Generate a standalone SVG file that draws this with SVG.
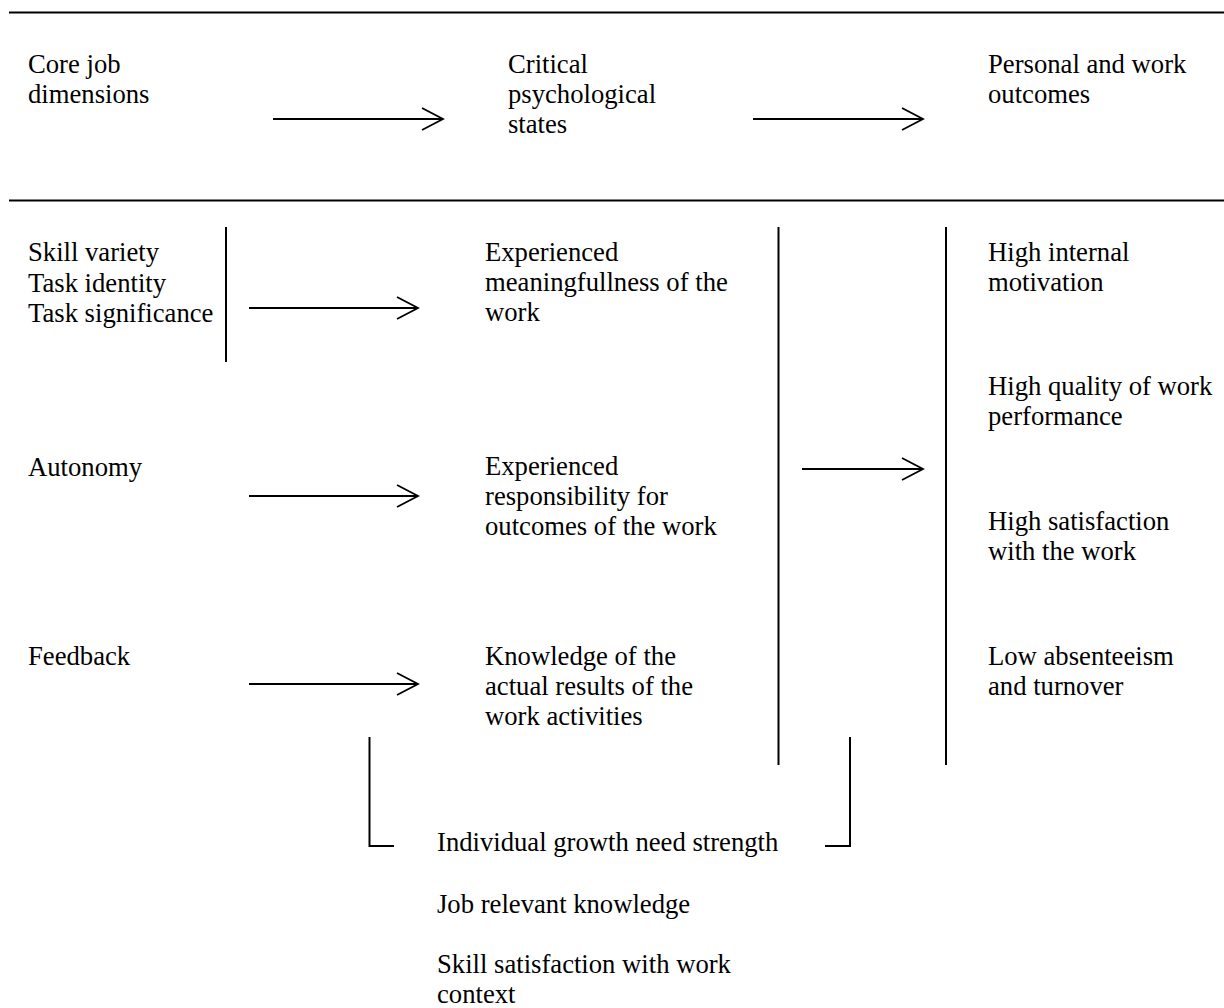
<svg xmlns="http://www.w3.org/2000/svg" width="1224" height="1008" viewBox="0 0 1224 1008">
<style>
text{font-family:"Liberation Serif","Times New Roman",serif;font-size:26.67px;fill:#000}
.rule{stroke:#000;stroke-width:2.2;fill:none}
.bar{stroke:#000;stroke-width:2;fill:none}
.arr{stroke:#000;stroke-width:1.8;fill:none;marker-end:url(#head)}
</style>
<defs>
<marker id="head" viewBox="0 0 24 24" refX="22" refY="12" markerWidth="24" markerHeight="24" markerUnits="userSpaceOnUse" orient="auto">
<path d="M1,1 L22,12 L1,23" fill="none" stroke="#000" stroke-width="1.8"/>
</marker>
</defs>
<rect width="1224" height="1008" fill="#fff"/>
<g id="rules">
<line class="rule" x1="9" y1="12.5" x2="1224" y2="12.5"/>
<line class="rule" x1="9" y1="200.5" x2="1224" y2="200.5"/>
</g>
<g id="head-core"><text x="28" y="73"><tspan x="28">Core job</tspan><tspan x="28" dy="30">dimensions</tspan></text></g>
<g id="head-critical"><text x="508" y="73"><tspan x="508">Critical</tspan><tspan x="508" dy="30">psychological</tspan><tspan x="508" dy="30">states</tspan></text></g>
<g id="head-outcomes"><text x="988" y="73"><tspan x="988">Personal and work</tspan><tspan x="988" dy="30">outcomes</tspan></text></g>
<g id="dim-svt"><text x="28" y="261"><tspan x="28">Skill variety</tspan><tspan x="28" dy="30.5">Task identity</tspan><tspan x="28" dy="30.5">Task significance</tspan></text></g>
<g id="dim-autonomy"><text x="28" y="476">Autonomy</text></g>
<g id="dim-feedback"><text x="28" y="665">Feedback</text></g>
<g id="state-meaning"><text x="485" y="261"><tspan x="485">Experienced</tspan><tspan x="485" dy="30">meaningfullness of the</tspan><tspan x="485" dy="30">work</tspan></text></g>
<g id="state-responsibility"><text x="485" y="475"><tspan x="485">Experienced</tspan><tspan x="485" dy="30">responsibility for</tspan><tspan x="485" dy="30">outcomes of the work</tspan></text></g>
<g id="state-knowledge"><text x="485" y="665"><tspan x="485">Knowledge of the</tspan><tspan x="485" dy="30">actual results of the</tspan><tspan x="485" dy="30">work activities</tspan></text></g>
<g id="out-motivation"><text x="988" y="261"><tspan x="988">High internal</tspan><tspan x="988" dy="30">motivation</tspan></text></g>
<g id="out-quality"><text x="988" y="395"><tspan x="988">High quality of work</tspan><tspan x="988" dy="30">performance</tspan></text></g>
<g id="out-satisfaction"><text x="988" y="530"><tspan x="988">High satisfaction</tspan><tspan x="988" dy="30">with the work</tspan></text></g>
<g id="out-absenteeism"><text x="988" y="665"><tspan x="988">Low absenteeism</tspan><tspan x="988" dy="30">and turnover</tspan></text></g>
<g id="moderators"><text x="437" y="851">Individual growth need strength</text><text x="437" y="913">Job relevant knowledge</text><text x="437" y="973"><tspan x="437">Skill satisfaction with work</tspan><tspan x="437" dy="30">context</tspan></text></g>
<g id="connectors">
<line class="arr" x1="273" y1="119" x2="443" y2="119"/>
<line class="arr" x1="753" y1="119" x2="923" y2="119"/>
<line class="arr" x1="249" y1="308" x2="418" y2="308"/>
<line class="arr" x1="249" y1="496" x2="418" y2="496"/>
<line class="arr" x1="249" y1="684" x2="418" y2="684"/>
<line class="arr" x1="802" y1="469" x2="923" y2="469"/>
<line class="bar" x1="226" y1="227" x2="226" y2="362"/>
<line class="bar" x1="778.5" y1="227" x2="778.5" y2="765"/>
<line class="bar" x1="946" y1="227" x2="946" y2="765"/>
<polyline class="bar" points="369.5,737 369.5,846 394,846"/>
<polyline class="bar" points="825,846 850,846 850,737"/>
</g>
</svg>
